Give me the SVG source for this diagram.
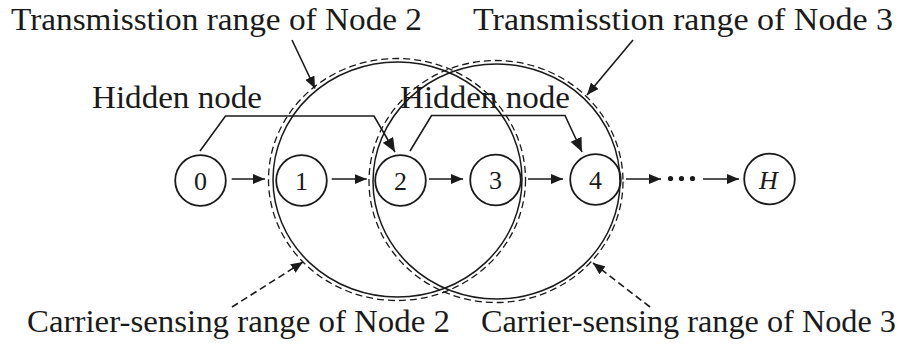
<svg xmlns="http://www.w3.org/2000/svg" width="909" height="344" viewBox="0 0 909 344">
<style>
text { font-family: "Liberation Serif", "Times New Roman", serif; fill: #1a1a1a; }
.lbl { font-size: 32px; }
.num { font-size: 26px; text-anchor: middle; }
.node { fill: none; stroke: #1a1a1a; stroke-width: 1.8; }
.ln { fill: none; stroke: #1a1a1a; stroke-width: 1.6; }
.dash { stroke-dasharray: 7 4; }
.range { fill: none; stroke: #1a1a1a; stroke-width: 1.5; }
.cs { fill: none; stroke: #1a1a1a; stroke-width: 1.3; stroke-dasharray: 7 4; }
</style>
<defs>
<marker id="ah" markerUnits="userSpaceOnUse" markerWidth="12" markerHeight="10" refX="12" refY="5" orient="auto">
<path d="M0,0 L12,5 L0,10 z" fill="#1a1a1a"/>
</marker>
<marker id="ahb" markerUnits="userSpaceOnUse" markerWidth="14" markerHeight="12" refX="14" refY="6" orient="auto">
<path d="M0,0 L14,6 L0,12 z" fill="#1a1a1a"/>
</marker>
</defs>

<g id="ranges">
<ellipse class="range" cx="397.5" cy="179.5" rx="124.5" ry="117.5"/>
<ellipse class="cs" cx="397" cy="179.5" rx="128.5" ry="121"/>
<ellipse class="range" cx="496.5" cy="181.5" rx="123.5" ry="117.5"/>
<ellipse class="cs" cx="496" cy="181.5" rx="127" ry="121"/>
</g>

<g id="connectors">
<line class="ln" x1="231.7" y1="179" x2="265" y2="179" marker-end="url(#ah)"/>
<line class="ln" x1="331.7" y1="179" x2="366.7" y2="179" marker-end="url(#ah)"/>
<line class="ln" x1="429" y1="179" x2="463" y2="179" marker-end="url(#ah)"/>
<line class="ln" x1="528" y1="179" x2="563" y2="179" marker-end="url(#ah)"/>
<line class="ln" x1="626" y1="179" x2="661" y2="179" marker-end="url(#ah)"/>
<line class="ln" x1="703" y1="179" x2="739" y2="179" marker-end="url(#ah)"/>
<polyline class="ln" points="200,151 225.5,116 374,116 395,152" marker-end="url(#ahb)"/>
<polyline class="ln" points="410,151 431.5,115.5 565,115.5 582,152" marker-end="url(#ahb)"/>
<line class="ln" x1="292" y1="40" x2="315" y2="88.5" marker-end="url(#ah)"/>
<line class="ln" x1="633" y1="40" x2="587" y2="95" marker-end="url(#ah)"/>
<line class="ln dash" x1="232" y1="307" x2="303" y2="262" marker-end="url(#ah)"/>
<line class="ln dash" x1="650" y1="307" x2="593" y2="263" marker-end="url(#ah)"/>
</g>

<g id="dots" fill="#1a1a1a">
<circle cx="670.5" cy="178.5" r="2.6"/>
<circle cx="681.5" cy="178.5" r="2.6"/>
<circle cx="692.5" cy="178.5" r="2.6"/>
</g>

<g id="node0"><circle class="node" cx="200.5" cy="180.5" r="25.3"/><text class="num" x="200.5" y="189.5">0</text></g>
<g id="node1"><circle class="node" cx="301.5" cy="180.5" r="25.3"/><text class="num" x="301.5" y="189.5">1</text></g>
<g id="node2"><circle class="node" cx="400.5" cy="180.5" r="25.3"/><text class="num" x="400.5" y="189.5">2</text></g>
<g id="node3"><circle class="node" cx="495.5" cy="180" r="25.3"/><text class="num" x="495.5" y="189">3</text></g>
<g id="node4"><circle class="node" cx="595.5" cy="179.5" r="25.3"/><text class="num" x="595.5" y="188.5">4</text></g>
<g id="nodeH"><circle class="node" cx="769.5" cy="179" r="25.3"/><text class="num" x="768.5" y="188.5" font-style="italic" font-size="28">H</text></g>

<g id="labels">
<text class="lbl" x="11" y="29.5" textLength="411" lengthAdjust="spacingAndGlyphs">Transmisstion range of Node 2</text>
<text class="lbl" x="473" y="29.5" textLength="420" lengthAdjust="spacingAndGlyphs">Transmisstion range of Node 3</text>
<text class="lbl" x="92" y="107.5" textLength="170" lengthAdjust="spacingAndGlyphs">Hidden node</text>
<text class="lbl" x="400" y="107.5" textLength="170" lengthAdjust="spacingAndGlyphs">Hidden node</text>
<text class="lbl" x="27" y="331.5" textLength="423" lengthAdjust="spacingAndGlyphs">Carrier-sensing range of Node 2</text>
<text class="lbl" x="481" y="331.5" textLength="415" lengthAdjust="spacingAndGlyphs">Carrier-sensing range of Node 3</text>
</g>
</svg>
